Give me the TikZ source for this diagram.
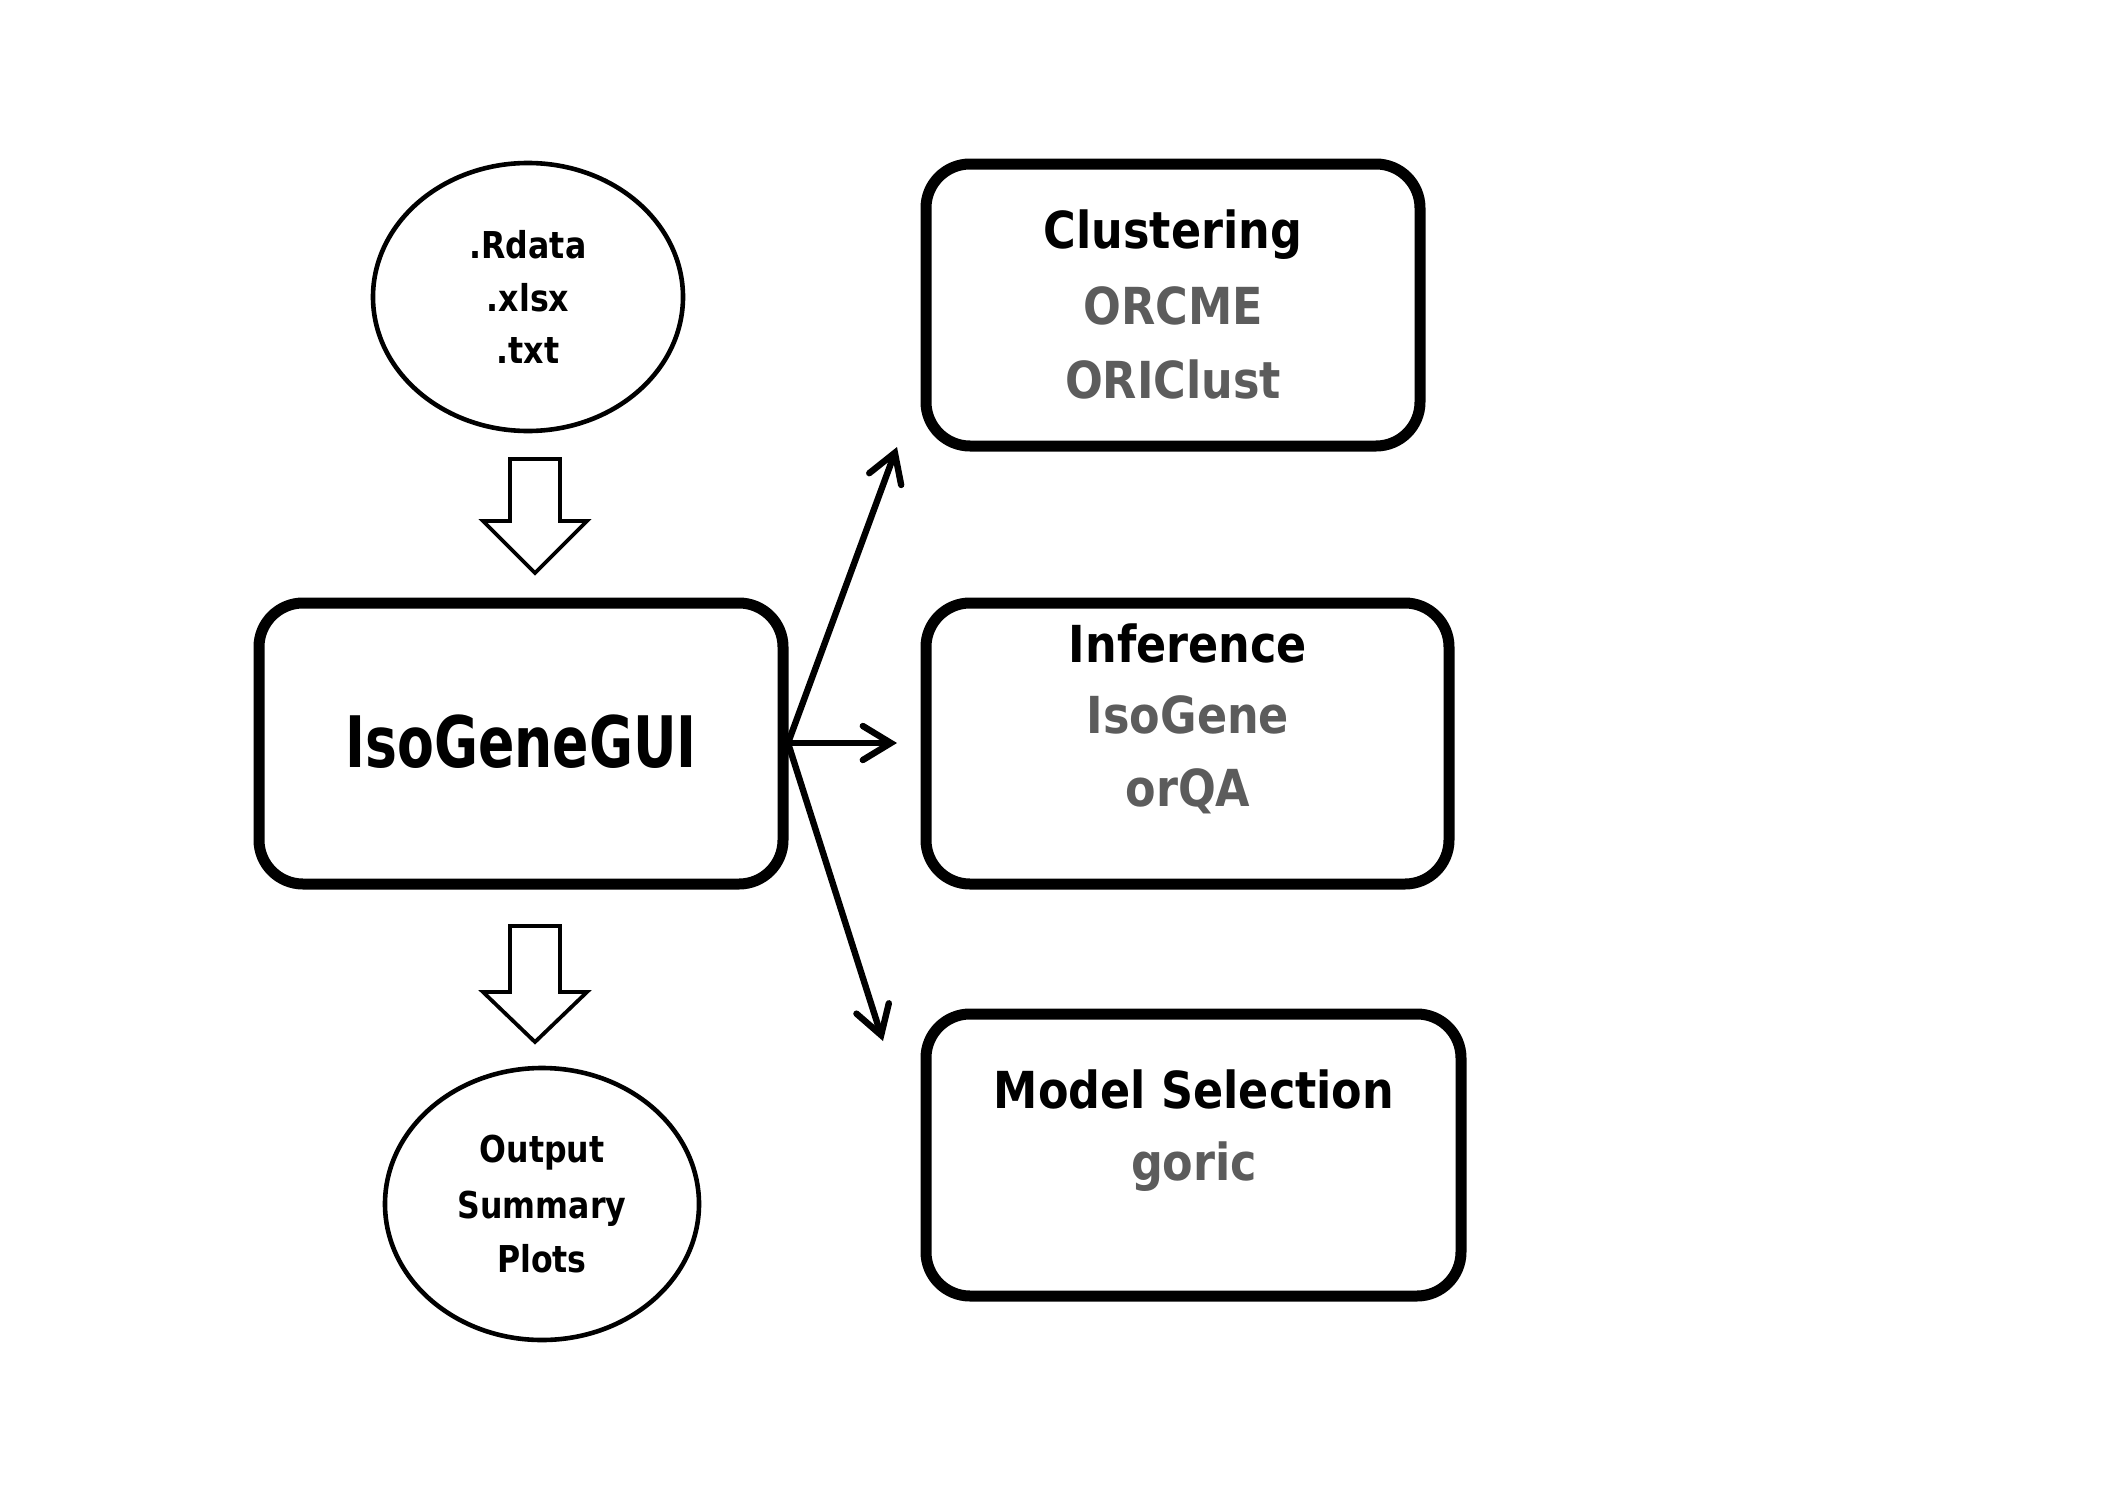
\documentclass[tikz,border=0pt]{standalone}
\usepackage{fontspec}
\setmainfont{DejaVu Sans Condensed}
\usetikzlibrary{arrows.meta,shapes.geometric}
\definecolor{txtgrey}{RGB}{92,92,92}
\begin{document}
\begin{tikzpicture}[x=0.5pt,y=-0.5pt,
  gbox/.style={draw, line width=5.5pt, rounded corners=22pt, inner sep=0pt},
  blob/.style={draw, ellipse, line width=2.3pt, inner sep=0pt},
  blockarrow/.style={draw, line width=1.9pt, line join=miter, fill=white},
  conn/.style={draw, line width=3.2pt, line cap=round, -{Straight Barb[length=14pt,width=17pt,line cap=round]}},
  bigtxt/.style={anchor=base, inner sep=0pt, xscale=0.84, transform shape, font=\fontsize{35.5}{40}\selectfont\bfseries},
  boxtxt/.style={anchor=base, inner sep=0pt, xscale=0.97, transform shape, font=\fontsize{25.5}{30}\selectfont\bfseries},
  greytxt/.style={boxtxt, text=txtgrey},
  elltxt/.style={anchor=base, inner sep=0pt, xscale=0.95, transform shape, font=\fontsize{18.5}{22}\selectfont\bfseries}]
\useasboundingbox (0,0) rectangle (2105,1488);
\fill[white] (0,0) rectangle (2105,1488);

% input ellipse
\node[blob, minimum width=155pt, minimum height=134pt] (inp) at (528,297) {};
\node[elltxt] (inp1) at (528,258) {.Rdata};
\node[elltxt] (inp2) at (528,311) {.xlsx};
\node[elltxt] (inp3) at (528,363) {.txt};

% main box
\node[gbox, minimum width=262pt, minimum height=140.5pt] (main) at (521,743.5) {};
\node[bigtxt] (maint) at (521,767) {IsoGeneGUI};

% output ellipse
\node[blob, minimum width=157pt, minimum height=136pt] (out) at (542,1204) {};
\node[elltxt] (out1) at (542,1162) {Output};
\node[elltxt] (out2) at (542,1218) {Summary};
\node[elltxt] (out3) at (542,1272) {Plots};

% block arrows
\coordinate (ba1) at (535,459);
\draw[blockarrow] (ba1) ++(-25,0) -- ++(50,0) -- ++(0,62) -- ++(27,0) -- ++(-52,52) -- ++(-52,-52) -- ++(27,0) -- cycle;
\coordinate (ba2) at (535,926);
\draw[blockarrow] (ba2) ++(-25,0) -- ++(50,0) -- ++(0,66) -- ++(27,0) -- ++(-52,50) -- ++(-52,-50) -- ++(27,0) -- cycle;

% right boxes
\node[gbox, minimum width=247pt, minimum height=141pt] (clu) at (1173,305) {};
\node[boxtxt] (clu1) at (1173,248) {Clustering};
\node[greytxt] (clu2) at (1173,324) {ORCME};
\node[greytxt] (clu3) at (1173,398) {ORIClust};

\node[gbox, minimum width=261.5pt, minimum height=140.5pt] (inf) at (1187.5,743.5) {};
\node[boxtxt] (inf1) at (1188,662) {Inference};
\node[greytxt] (inf2) at (1188,733) {IsoGene};
\node[greytxt] (inf3) at (1188,806) {orQA};

\node[gbox, minimum width=267.5pt, minimum height=141pt] (mod) at (1193.5,1155) {};
\node[boxtxt] (mod1) at (1194,1108) {Model Selection};
\node[greytxt] (mod2) at (1194,1180) {goric};

% connectors
\coordinate (o) at (788,743);
\coordinate (t1) at (897,447);
\coordinate (t2) at (897,743);
\coordinate (t3) at (883,1041);
\draw[conn] (o) -- (t1);
\draw[conn] (o) -- (t2);
\draw[conn] (o) -- (t3);
\end{tikzpicture}
\end{document}
